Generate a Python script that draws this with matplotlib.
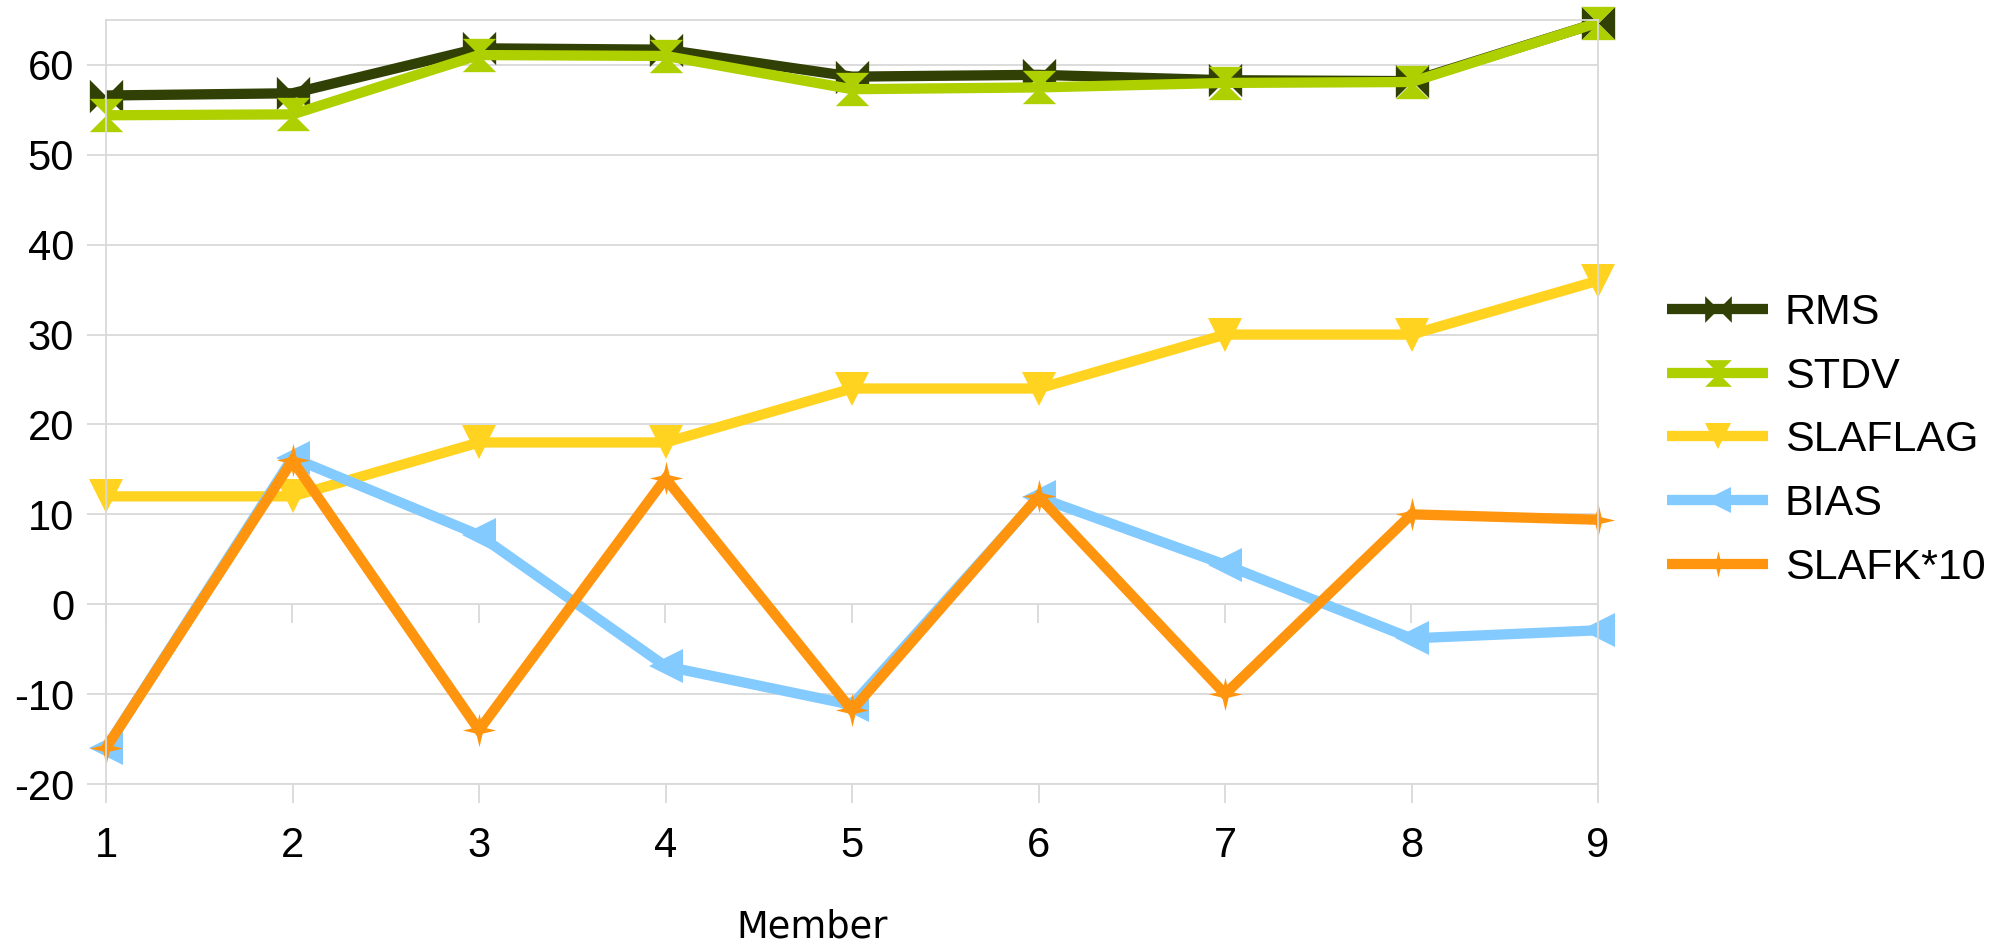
import matplotlib
matplotlib.use("Agg")
import matplotlib.pyplot as plt
from matplotlib.path import Path

plt.rcParams["axes.unicode_minus"] = False

# ---- data -------------------------------------------------------------
members = [1, 2, 3, 4, 5, 6, 7, 8, 9]
rms = [56.6, 56.85, 61.85, 61.7, 58.7, 58.9, 58.3, 58.2, 64.7]
stdv = [54.4, 54.5, 61.1, 61.0, 57.3, 57.5, 58.0, 58.1, 64.7]
slaflag = [12, 12, 18, 18, 24, 24, 30, 30, 36]
bias = [-16.0, 16.3, 7.7, -6.9, -11.2, 11.9, 4.4, -3.8, -2.9]
slafk10 = [-16.0, 16.0, -14.0, 14.0, -11.8, 12.0, -10.0, 10.0, 9.4]

series_names = ["RMS", "STDV", "SLAFLAG", "BIAS", "SLAFK*10"]
y_ticks = [-20, -10, 0, 10, 20, 30, 40, 50, 60]
x_label = "Member"

# ---- marker shapes ------------------------------------------------------
MV, LT, CP = Path.MOVETO, Path.LINETO, Path.CLOSEPOLY
bowtie = Path([(-1, -1), (0, 0), (-1, 1), (-1, -1),
               (1, -1), (1, 1), (0, 0), (1, -1)],
              [MV, LT, LT, CP, MV, LT, LT, CP])
hourglass = Path([(-1, 1), (1, 1), (0, 0), (-1, 1),
                  (-1, -1), (0, 0), (1, -1), (-1, -1)],
                 [MV, LT, LT, CP, MV, LT, LT, CP])
r = 0.19
star4 = Path([(0, 1), (r, r), (1, 0), (r, -r), (0, -1), (-r, -r),
              (-1, 0), (-r, r), (0, 1)],
             [MV, LT, LT, LT, LT, LT, LT, LT, CP])

colors = ["#314004", "#aecf00", "#ffd320", "#83caff", "#ff950e"]
markers = [bowtie, hourglass, "v", "<", star4]
values = [rms, stdv, slaflag, bias, slafk10]

# ---- figure -------------------------------------------------------------
W, H = 2012, 946
fig = plt.figure(figsize=(W / 100, H / 100), dpi=100)
L, R, T, B = 106, 1598, 20, 784
ax = fig.add_axes([L / W, 1 - B / H, (R - L) / W, (B - T) / H])

grid_c = "#d9d9d9"

for name, vals, col, mk in zip(series_names, values, colors, markers):
    ax.plot(members, vals, color=col, lw=7.4, marker=mk, markersize=24,
            markeredgewidth=0, label=name, clip_on=False,
            solid_joinstyle="miter", solid_capstyle="butt")

ax.set_xlim(1, 9)
ax.set_ylim(-20, 65)
ax.set_yticks(y_ticks)
ax.set_xticks(members)
ax.grid(axis="y", color=grid_c, lw=1.3)
ax.grid(axis="x", visible=False)
ax.set_axisbelow(True)
for sp in ax.spines.values():
    sp.set_color(grid_c)
    sp.set_linewidth(1.3)

ax.tick_params(axis="both", direction="out", length=14, width=1.3,
               color=grid_c, labelcolor="black")
ax.tick_params(axis="y", pad=9)
ax.tick_params(axis="x", pad=16.5)
for lab in ax.get_xticklabels() + ax.get_yticklabels():
    lab.set_fontfamily("Liberation Sans")
    lab.set_fontsize(30)

# tick marks along the zero line
zero_ax = ax.secondary_xaxis(0, transform=ax.transData)
zero_ax.set_xticks(members)
zero_ax.tick_params(direction="out", length=14, width=1.3, color=grid_c,
                    labelbottom=False)
zero_ax.spines["bottom"].set_visible(False)

fig.text(812 / W, 1 - 937 / H, x_label, ha="center", va="baseline",
         family="DejaVu Sans", fontsize=26.5)

leg = fig.legend(loc="upper left", bbox_to_anchor=(1667 / W, 1 - 293 / H),
                 frameon=False, prop=dict(family="Liberation Sans", size=31),
                 handlelength=2.35, handletextpad=0.38, labelspacing=0.55,
                 markerscale=0.8, borderpad=0, borderaxespad=0, numpoints=1)

fig.savefig("out.png", dpi=100)
